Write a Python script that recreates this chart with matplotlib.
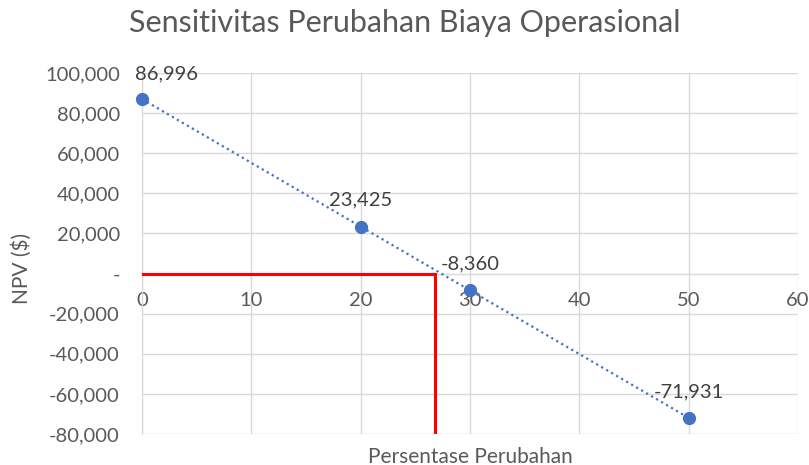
import matplotlib.pyplot as plt
import matplotlib.ticker as mticker

# data
persen = [0, 20, 30, 50]
npv = [86996, 23425, -8360, -71931]
titik_impas = 26.8   # posisi garis merah (NPV = 0)

plt.rcParams['font.family'] = ['Lato', 'DejaVu Sans']
abu = '#595959'
grid_c = '#d9d9d9'

fig = plt.figure(figsize=(8.09, 4.65), dpi=100)
ax = fig.add_axes([142 / 809, 1 - 434 / 465, (798 - 142) / 809, (434 - 73) / 465])

ax.set_xlim(0, 60)
ax.set_ylim(-80000, 100000)
ax.set_xticks(range(0, 61, 10))
ax.set_yticks(range(-80000, 100001, 20000))
ax.yaxis.set_major_formatter(mticker.FuncFormatter(
    lambda v, p: '-' if v == 0 else f'{int(v):,}'))

ax.grid(True, color=grid_c, linewidth=1)
ax.set_axisbelow(True)
for s in ['top', 'right']:
    ax.spines[s].set_visible(False)
ax.spines['left'].set_color(grid_c)
ax.spines['bottom'].set_position(('data', 0))
ax.spines['bottom'].set_color(grid_c)
ax.tick_params(length=0, labelsize=14.5, labelcolor=abu)
ax.tick_params(axis='x', pad=13)
ax.tick_params(axis='y', pad=16)

# garis merah
ax.plot([0, titik_impas], [0, 0], color='#ff0000', linewidth=2.2, zorder=3)
ax.plot([titik_impas, titik_impas], [0, -80000], color='#ff0000', linewidth=2.2, zorder=3)

ax.plot(persen, npv, color='#4472c4', linestyle=(0, (1, 1.6)), linewidth=1.6,
        marker='o', markersize=8.5, clip_on=False, zorder=4)

for i, (x, y) in enumerate(zip(persen, npv)):
    if i == 0:
        ax.annotate(f'{y:,}', (x, y), xytext=(-5, 18), textcoords='offset points',
                    ha='left', va='center', fontsize=14.5, color='#404040')
    else:
        ax.annotate(f'{y:,}', (x, y), xytext=(0, 19), textcoords='offset points',
                    ha='center', va='center', fontsize=14.5, color='#404040')

ax.set_xlabel('Persentase Perubahan', fontsize=15, color=abu)
ax.xaxis.set_label_coords(0.5, -0.035)
ax.set_ylabel('NPV ($)', fontsize=15, color=abu)
ax.yaxis.set_label_coords(-0.168, 0.46)

fig.text(0.5, 1 - 23 / 465, 'Sensitivitas Perubahan Biaya Operasional',
         ha='center', va='center', fontsize=22, color=abu)

fig.savefig('out.png', dpi=100)
